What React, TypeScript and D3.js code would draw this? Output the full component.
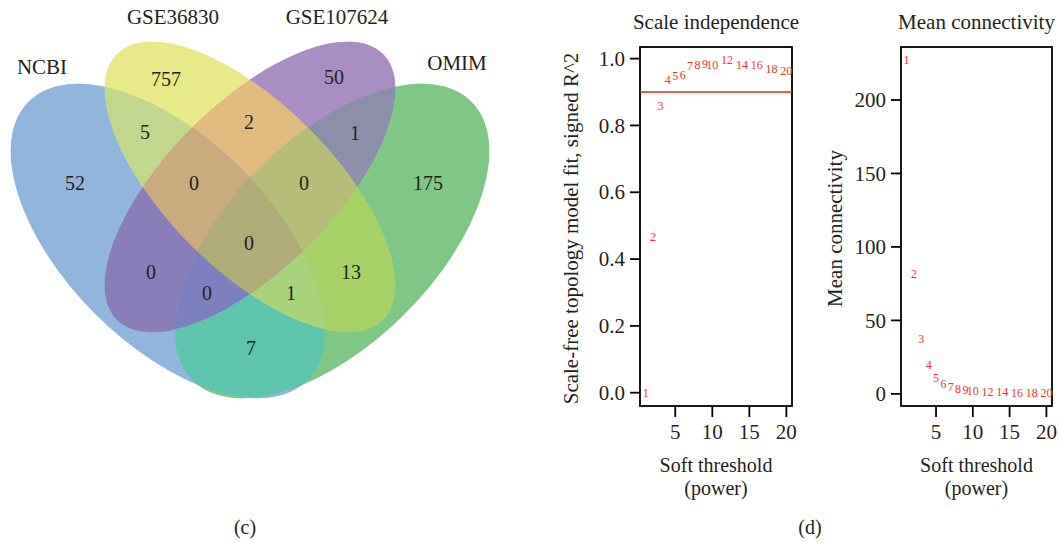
import React from "react";
import * as d3 from "d3";

// ---- Venn (c) ----
const setNames = ["NCBI", "GSE36830", "GSE107624", "OMIM"];
// region = which sets it belongs to (index into setNames)
const regionMembers = [
  [0], [1], [2], [3],
  [0, 1], [1, 2], [2, 3],
  [0, 1, 2], [1, 2, 3], [0, 1, 2, 3],
  [0, 2], [1, 3], [0, 2, 3], [0, 1, 3], [0, 3],
];
const regionCounts = [52, 757, 50, 175, 5, 2, 1, 0, 0, 0, 0, 13, 0, 1, 7];

// ---- soft threshold (d) ----
const powers = [1, 2, 3, 4, 5, 6, 7, 8, 9, 10, 12, 14, 16, 18, 20];
const scaleFit = [0.0, 0.467, 0.86, 0.938, 0.948, 0.953, 0.98, 0.981, 0.986, 0.983, 0.995, 0.981, 0.983, 0.97, 0.965];
const meanK = [227, 81.8, 37.5, 19.8, 11, 7, 4.8, 3.5, 2.8, 2.3, 1.6, 1.2, 1.0, 0.9, 0.8];
const cutHeight = 0.9;

// layout
const FONT = "'Liberation Serif', 'Times New Roman', serif";
const INK = "#231f20";
const vennShapes = [
  { cx: 168, cy: 241, a: 197, b: 103, rot: 45 },
  { cx: 250, cy: 187, a: 188, b: 83, rot: 45 },
  { cx: 250, cy: 187, a: 188, b: 83, rot: -45 },
  { cx: 332, cy: 241, a: 197, b: 103, rot: -45 },
];
const regionColors = [
  "#92b5de", "#e8ea8a", "#a98ec4", "#80c787",
  "#c2d68e", "#e2bb80", "#8c8eaa",
  "#c9ab7e", "#b6bd78", "#b0ac78",
  "#8a7eba", "#a6d267", "#7d7fbe", "#a8d37c", "#5fc4ae",
];
const regionLabelPos = [
  [75, 183], [166, 79], [334, 77], [428, 183],
  [145, 132], [249, 122], [355, 133],
  [194, 183], [304, 183], [249, 243],
  [151, 272], [351, 272], [207, 293], [291, 293], [251, 348],
];
const setLabelPos = [[42, 67], [173, 17], [337, 17], [457, 63]];

function pad4(ext: [number, number]): [number, number] {
  const d = (ext[1] - ext[0]) * 0.04;
  return [ext[0] - d, ext[1] + d];
}

function Venn() {
  const shape = (s: any, props: any = {}) => (
    <ellipse cx={s.cx} cy={s.cy} rx={s.a} ry={s.b}
      transform={`rotate(${s.rot} ${s.cx} ${s.cy})`} {...props} />
  );
  return (
    <g>
      <defs>
        {vennShapes.map((s, i) => (
          <clipPath id={`vclip${i}`} key={i}>{shape(s)}</clipPath>
        ))}
        {regionMembers.map((m, r) => (
          <mask id={`vmask${r}`} key={r} maskUnits="userSpaceOnUse" x={0} y={0} width={520} height={440}>
            <rect x={0} y={0} width={520} height={440} fill="white" />
            {vennShapes.map((s, i) => (m.includes(i) ? null : <React.Fragment key={i}>{shape(s, { fill: "black" })}</React.Fragment>))}
          </mask>
        ))}
      </defs>
      {/* base under the regions so the cut edges do not show white seams */}
      {vennShapes.map((s, i) => <React.Fragment key={i}>{shape(s, { fill: regionColors[i], opacity: 0.9 })}</React.Fragment>)}
      {regionMembers.map((m, r) => {
        let inner: any = <rect x={0} y={0} width={520} height={440} fill={regionColors[r]} />;
        m.forEach((i) => {
          inner = <g clipPath={`url(#vclip${i})`}>{inner}</g>;
        });
        return <g key={r} mask={`url(#vmask${r})`}>{inner}</g>;
      })}
      {regionCounts.map((c, r) => (
        <text key={r} x={regionLabelPos[r][0]} y={regionLabelPos[r][1]} dy="0.35em"
          textAnchor="middle" fontSize={20} fill={INK}>{c}</text>
      ))}
      {setNames.map((n, i) => (
        <text key={n} x={setLabelPos[i][0]} y={setLabelPos[i][1]} dy="0.35em"
          textAnchor="middle" fontSize={21} fill={INK}>{n}</text>
      ))}
      <text x={245} y={534} textAnchor="middle" fontSize={20} fill={INK}>(c)</text>
    </g>
  );
}

function Panel({ left, right, top, bottom, values, yFormat, title, ylab, labX, line }: any) {
  const x = d3.scaleLinear().domain(pad4(d3.extent(powers) as any)).range([left, right]);
  const y = d3.scaleLinear().domain(pad4(d3.extent(values) as any)).range([bottom, top]);
  const cx = (left + right) / 2;
  return (
    <g fill={INK} fontSize={21}>
      <text x={cx} y={29} textAnchor="middle">{title}</text>
      <rect x={left} y={top} width={right - left} height={bottom - top} fill="none" stroke="#000" strokeWidth={1.8} />
      {line != null && (
        <line x1={left} x2={right} y1={y(line)} y2={y(line)} stroke="#f01e1e" strokeWidth={1.5} />
      )}
      {y.ticks(5).map((t) => (
        <g key={t}>
          <line x1={left - 10} x2={left} y1={y(t)} y2={y(t)} stroke="#000" strokeWidth={1.8} />
          <text x={left - 15} y={y(t)} dy="0.34em" textAnchor="end">{yFormat(t)}</text>
        </g>
      ))}
      {x.ticks(4).map((t) => (
        <g key={t}>
          <line x1={x(t)} x2={x(t)} y1={bottom} y2={bottom + 11} stroke="#000" strokeWidth={1.8} />
          <text x={x(t)} y={439} textAnchor="middle">{t}</text>
        </g>
      ))}
      {powers.map((p, i) => (
        <text key={p} x={x(p)} y={y(values[i])} dy="0.35em" textAnchor="middle" fontSize={12} fill="#f03232">{p}</text>
      ))}
      <text x={cx} y={472} textAnchor="middle" fontSize={20}>Soft threshold</text>
      <text x={cx} y={495} textAnchor="middle" fontSize={20}>(power)</text>
      <text transform={`translate(${labX},${(top + bottom) / 2 + 2}) rotate(-90)`} textAnchor="middle">{ylab}</text>
    </g>
  );
}

export default function App() {
  return (
    <svg width={1060} height={543} style={{ position: "absolute", left: 0, top: 0, background: "#fff" }}
      fontFamily={FONT}>
      <Venn />
      <Panel left={640} right={792} top={47} bottom={406} values={scaleFit} yFormat={d3.format(".1f")}
        title="Scale independence" ylab="Scale-free topology model fit, signed R^2" labX={578} line={cutHeight} />
      <Panel left={901} right={1052} top={47} bottom={406} values={meanK} yFormat={d3.format("d")}
        title="Mean connectivity" ylab="Mean connectivity" labX={842} line={null} />
      <text x={810} y={534} textAnchor="middle" fontSize={20} fill={INK} fontFamily={FONT}>(d)</text>
    </svg>
  );
}
